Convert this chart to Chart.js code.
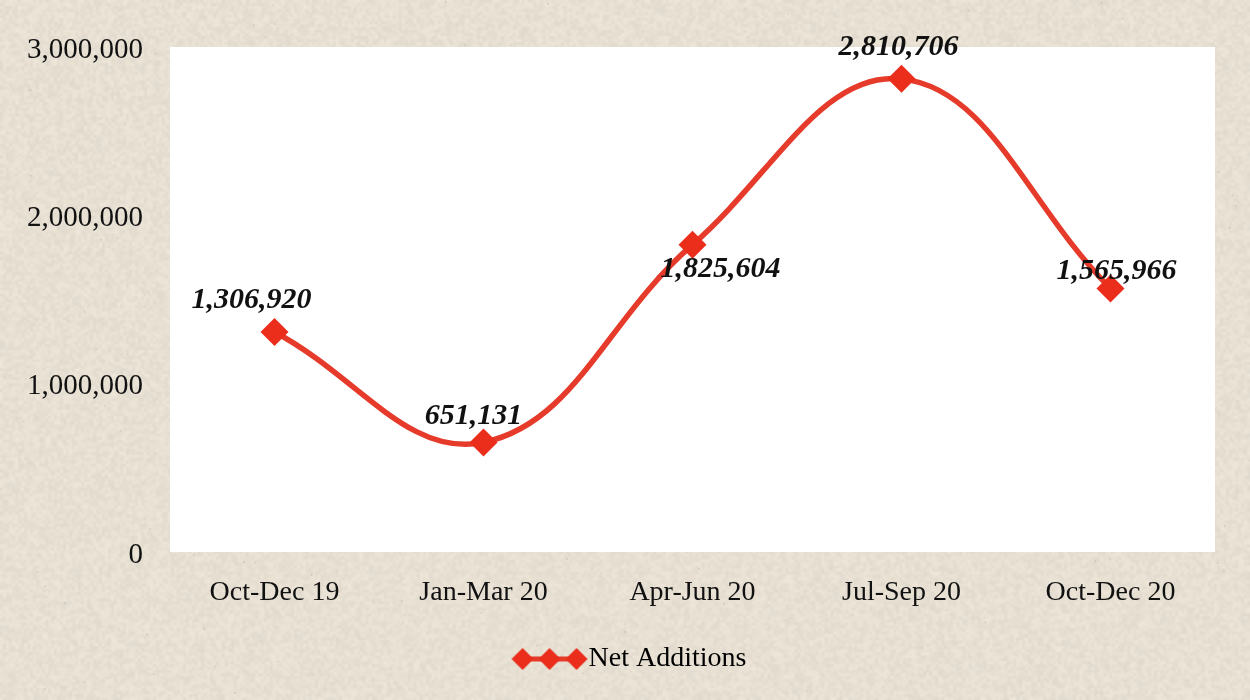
<!DOCTYPE html>
<html>
<head>
<meta charset="utf-8">
<script src="https://cdn.jsdelivr.net/npm/chart.js@4.4.1/dist/chart.umd.min.js"></script>
<style>
html,body{margin:0;padding:0;background:#e7e0d3;}
#wrap{width:1250px;height:700px;}
</style>
</head>
<body>
<div id="wrap"><canvas id="c" width="1250" height="700"></canvas></div>
<script>
const categories = ['Oct-Dec 19', 'Jan-Mar 20', 'Apr-Jun 20', 'Jul-Sep 20', 'Oct-Dec 20'];
const netAdditions = [1306920, 651131, 1825604, 2810706, 1565966];
const yTicks = [0, 1000000, 2000000, 3000000];
const seriesName = 'Net Additions';
// label nudges (pixels) relative to each point, mimicking the original placement
const labelOffsets = [[-23, -32], [-10, -26], [28, 25], [-3, -32], [6, -17]];

const RED_LINE = '#e63b2b';
const RED_MARK = '#ea2e1b';
const FONT = '"Liberation Serif", "Times New Roman", serif';

// legend icon: line with three diamonds, drawn at the right end of a wider transparent image
function legendIcon() {
  const cv = document.createElement('canvas');
  cv.width = 134; cv.height = 26;
  const x = cv.getContext('2d');
  const o = 134 - 76;
  x.strokeStyle = RED_LINE; x.lineWidth = 5; x.lineCap = 'round';
  x.beginPath(); x.moveTo(o + 6, 13); x.lineTo(o + 70, 13); x.stroke();
  x.fillStyle = RED_MARK;
  [10, 37, 64].forEach(cx => {
    const X = o + cx;
    x.beginPath(); x.moveTo(X, 2); x.lineTo(X + 11, 13); x.lineTo(X, 24); x.lineTo(X - 11, 13); x.closePath(); x.fill();
  });
  return cv;
}

// deterministic, soft paper-like texture (low-res noise scaled up smoothly)
let texture = null;
function makeTexture(w, h) {
  const sw = Math.ceil(w / 3), sh = Math.ceil(h / 3);
  const small = document.createElement('canvas');
  small.width = sw; small.height = sh;
  const sx = small.getContext('2d');
  const img = sx.createImageData(sw, sh);
  let s = 12345;
  const rnd = () => { s = (s * 1103515245 + 12345) & 0x7fffffff; return s / 0x7fffffff; };
  for (let i = 0; i < sw * sh; i++) {
    const d = (rnd() - 0.5) * 14;
    img.data[i * 4] = 231 + d;
    img.data[i * 4 + 1] = 224 + d;
    img.data[i * 4 + 2] = 211 + d * 0.9;
    img.data[i * 4 + 3] = 255;
  }
  sx.putImageData(img, 0, 0);
  const cv = document.createElement('canvas');
  cv.width = w; cv.height = h;
  const x = cv.getContext('2d');
  x.imageSmoothingEnabled = true;
  x.drawImage(small, 0, 0, w, h);
  for (let i = 0; i < 200; i++) {
    const px = rnd() * w, py = rnd() * h;
    x.fillStyle = 'rgba(130,115,95,' + (0.12 + rnd() * 0.15) + ')';
    x.fillRect(px, py, 1.5, 1.5);
  }
  return cv;
}

const bgPlugin = {
  id: 'bg',
  beforeDraw(chart) {
    const {ctx, chartArea: a} = chart;
    if (!texture) texture = makeTexture(chart.width, chart.height);
    ctx.save();
    ctx.drawImage(texture, 0, 0);
    ctx.fillStyle = '#ffffff';
    ctx.fillRect(a.left, a.top, a.right - a.left, a.bottom - a.top);
    ctx.restore();
  }
};

const labelPlugin = {
  id: 'valueLabels',
  afterDatasetsDraw(chart) {
    const {ctx} = chart;
    const meta = chart.getDatasetMeta(0);
    ctx.save();
    ctx.font = 'italic bold 30px ' + FONT;
    ctx.fillStyle = '#111111';
    ctx.textAlign = 'center';
    ctx.textBaseline = 'middle';
    meta.data.forEach((pt, i) => {
      const v = chart.data.datasets[0].data[i];
      const o = labelOffsets[i];
      ctx.fillText(v.toLocaleString('en-US'), pt.x + o[0], pt.y + o[1]);
    });
    ctx.restore();
  }
};

new Chart(document.getElementById('c'), {
  type: 'line',
  data: {
    labels: categories,
    datasets: [{
      label: seriesName,
      data: netAdditions,
      borderColor: RED_LINE,
      backgroundColor: RED_MARK,
      borderWidth: 5.5,
      tension: 0.4,
      pointStyle: 'rectRot',
      pointRadius: 14,
      pointHoverRadius: 14,
      pointBackgroundColor: RED_MARK,
      pointBorderColor: RED_MARK,
      pointBorderWidth: 0
    }]
  },
  options: {
    responsive: false,
    animation: false,
    events: [],
    layout: { padding: { top: 47, right: 35, bottom: 17, left: 0 } },
    scales: {
      x: {
        offset: true,
        grid: { display: false, drawTicks: false, offset: true },
        border: { display: false },
        ticks: { color: '#111', font: { family: FONT, size: 28 }, padding: 24, maxRotation: 0, autoSkip: false },
        afterFit(s) { s.height = 83; }
      },
      y: {
        min: 0, max: 3000000,
        afterBuildTicks(s) { s.ticks = yTicks.map(v => ({ value: v })); },
        grid: { display: false, drawTicks: false },
        border: { display: false },
        ticks: { color: '#111', font: { family: FONT, size: 29 }, padding: 27, labelOffset: 3,
          callback: v => Number(v).toLocaleString('en-US') },
        afterFit(s) { s.width = 170; }
      }
    },
    plugins: {
      tooltip: { enabled: false },
      legend: {
        position: 'bottom',
        labels: {
          usePointStyle: true,
          pointStyleWidth: 106,
          color: '#111',
          font: { family: FONT, size: 28 },
          padding: 10,
          generateLabels(chart) {
            return [{ text: seriesName, pointStyle: legendIcon(), fillStyle: RED_MARK, strokeStyle: RED_MARK, lineWidth: 0, hidden: false, datasetIndex: 0 }];
          }
        }
      }
    }
  },
  plugins: [bgPlugin, labelPlugin]
});
</script>
</body>
</html>
